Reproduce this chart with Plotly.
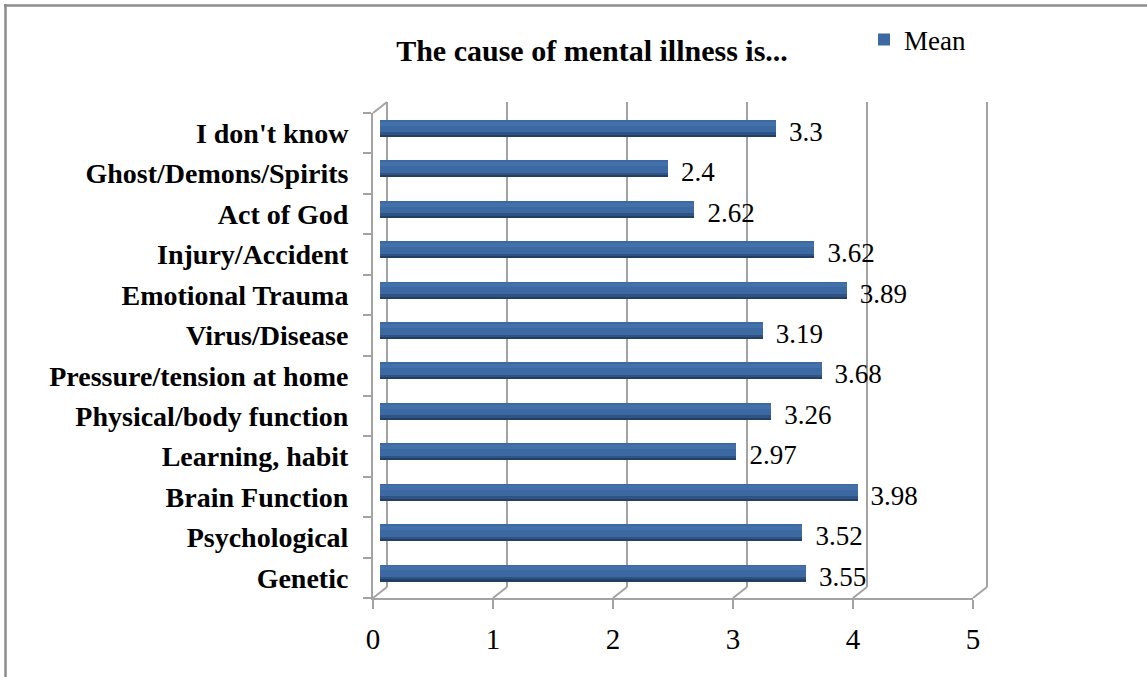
import plotly.graph_objects as go

# ---- data -------------------------------------------------------------
categories = [
    "Genetic",
    "Psychological",
    "Brain Function",
    "Learning, habit",
    "Physical/body function",
    "Pressure/tension at home",
    "Virus/Disease",
    "Emotional Trauma",
    "Injury/Accident",
    "Act of God",
    "Ghost/Demons/Spirits",
    "I don't know",
]
means = [3.55, 3.52, 3.98, 2.97, 3.26, 3.68, 3.19, 3.89, 3.62, 2.62, 2.4, 3.3]
value_ticks = [0, 1, 2, 3, 4, 5]
series_name = "Mean"
title_text = "The cause of mental illness is..."

# ---- page geometry (pixels) --------------------------------------------
W, H = 1147, 677


def fx(p):
    return p / W


def fy(p):
    return 1 - p / H


# pseudo-3D frame: front plane, and back wall shifted by (DX, DY)
FRONT_LEFT, FRONT_RIGHT = 373, 973
FRONT_TOP, FRONT_FLOOR = 113, 598
DX, DY = 14, -11
UNIT = (FRONT_RIGHT - FRONT_LEFT) / (value_ticks[-1] - value_ticks[0])

SERIF = "Liberation Serif"
FRAME = "#A3A3A3"
BAR = "#3C69A1"

fig = go.Figure()

# bars sit half-way between the front plane and the back wall
fig.add_trace(go.Bar(
    x=means, y=categories, orientation="h", width=0.41,
    marker=dict(color=BAR, line=dict(width=0)),
    name=series_name, xaxis="x", yaxis="y", hoverinfo="x+y",
))
# darker lower edge and a soft upper highlight round the bars off
fig.add_trace(go.Bar(
    x=means, y=categories, orientation="h", width=0.1, offset=-0.205,
    marker=dict(color="#2F5385", line=dict(width=0)),
    showlegend=False, hoverinfo="skip", xaxis="x", yaxis="y",
))
fig.add_trace(go.Bar(
    x=means, y=categories, orientation="h", width=0.04, offset=-0.205,
    marker=dict(color="#223F66", line=dict(width=0)),
    showlegend=False, hoverinfo="skip", xaxis="x", yaxis="y",
))
fig.add_trace(go.Bar(
    x=means, y=categories, orientation="h", width=0.1, offset=0.06,
    marker=dict(color="#4471A9", line=dict(width=0)),
    showlegend=False, hoverinfo="skip", xaxis="x", yaxis="y",
))

# invisible points that make the front-plane axes render
fig.add_trace(go.Scatter(
    x=[value_ticks[0]] * len(categories), y=categories, mode="markers",
    marker=dict(opacity=0), showlegend=False, hoverinfo="skip",
    xaxis="x2", yaxis="y2",
))

# value labels just right of each bar end
fig.add_trace(go.Scatter(
    x=means, y=categories, mode="text",
    text=[f"{v:g}" for v in means], textposition="middle right",
    textfont=dict(family=SERIF, size=27, color="#000000"),
    showlegend=False, hoverinfo="skip", xaxis="x3", yaxis="y3",
    cliponaxis=False,
))

mid_dx, mid_dy = DX / 2, DY / 2

layout_axes = dict(
    # bar axes (mid depth)
    xaxis=dict(domain=[fx(FRONT_LEFT + mid_dx), fx(FRONT_RIGHT + mid_dx)],
               range=[value_ticks[0], value_ticks[-1]], anchor="y",
               visible=False, automargin=False),
    yaxis=dict(domain=[fy(FRONT_FLOOR + mid_dy), fy(FRONT_TOP + mid_dy)],
               range=[-0.5, len(categories) - 0.5], anchor="x",
               type="category", categoryarray=categories, visible=False,
               automargin=False),
    # front plane: value axis on the floor and category axis on the side wall
    xaxis2=dict(domain=[fx(FRONT_LEFT), fx(FRONT_RIGHT)],
                range=[value_ticks[0], value_ticks[-1]], anchor="y2",
                tickvals=value_ticks, ticks="outside", ticklen=9, tickwidth=2,
                tickcolor=FRAME, showline=True, linecolor=FRAME, linewidth=2,
                showgrid=False, zeroline=False, ticklabelstandoff=5,
                automargin=False,
                tickfont=dict(family=SERIF, size=29, color="#000000")),
    yaxis2=dict(domain=[fy(FRONT_FLOOR), fy(FRONT_TOP)],
                range=[-0.5, len(categories) - 0.5], anchor="x2",
                type="category", categoryarray=categories,
                tickson="boundaries", ticks="outside", ticklen=8, tickwidth=2,
                tickcolor=FRAME, showline=True, linecolor=FRAME, linewidth=2,
                showgrid=False, zeroline=False, ticklabelstandoff=17,
                automargin=False,
                tickfont=dict(family=SERIF, size=28, color="#000000",
                              weight="bold")),
    # label axes, nudged right so the text clears the bar caps
    xaxis3=dict(domain=[fx(FRONT_LEFT + mid_dx + 13), fx(FRONT_RIGHT + mid_dx + 13)],
                range=[value_ticks[0], value_ticks[-1]], anchor="y3",
                visible=False, automargin=False),
    yaxis3=dict(domain=[fy(FRONT_FLOOR + 1), fy(FRONT_TOP + 1)],
                range=[-0.5, len(categories) - 0.5], anchor="x3",
                type="category", categoryarray=categories, visible=False,
                automargin=False),
)

# back-wall gridlines and the floor diagonals joining them to the front ticks
shapes = []
line = dict(color=FRAME, width=2)
for k in value_ticks:
    xf = FRONT_LEFT + k * UNIT
    xb = xf + DX
    shapes.append(dict(type="line", xref="paper", yref="paper", layer="below",
                       x0=fx(xb), x1=fx(xb), y0=fy(FRONT_FLOOR + DY),
                       y1=fy(FRONT_TOP + DY), line=line))
    shapes.append(dict(type="line", xref="paper", yref="paper", layer="below",
                       x0=fx(xf), x1=fx(xb), y0=fy(FRONT_FLOOR),
                       y1=fy(FRONT_FLOOR + DY), line=line))
# top edge of the side wall
shapes.append(dict(type="line", xref="paper", yref="paper", layer="below",
                   x0=fx(FRONT_LEFT), x1=fx(FRONT_LEFT + DX), y0=fy(FRONT_TOP),
                   y1=fy(FRONT_TOP + DY), line=line))
# chart-area border (top and left edges)
border = dict(color="#8C8C8C", width=2.5)
shapes.append(dict(type="line", xref="paper", yref="paper",
                   x0=fx(4), x1=1, y0=fy(5.5), y1=fy(5.5), line=border))
shapes.append(dict(type="line", xref="paper", yref="paper",
                   x0=fx(5.5), x1=fx(5.5), y0=fy(4), y1=0, line=border))

fig.update_layout(
    width=W, height=H, autosize=False,
    margin=dict(l=0, r=0, t=0, b=0, pad=0, autoexpand=False),
    paper_bgcolor="#FFFFFF", plot_bgcolor="rgba(0,0,0,0)",
    barmode="overlay", bargap=0,
    showlegend=True,
    legend=dict(x=fx(864), y=fy(40), xanchor="left", yanchor="middle",
                bgcolor="rgba(0,0,0,0)",
                font=dict(family=SERIF, size=27, color="#000000")),
    title=dict(text=title_text, x=fx(592), y=fy(50), xanchor="center",
               yanchor="middle", xref="paper", yref="paper",
               font=dict(family=SERIF, size=30, color="#000000", weight="bold")),
    shapes=shapes,
    **layout_axes,
)

fig.write_html("out.html")
